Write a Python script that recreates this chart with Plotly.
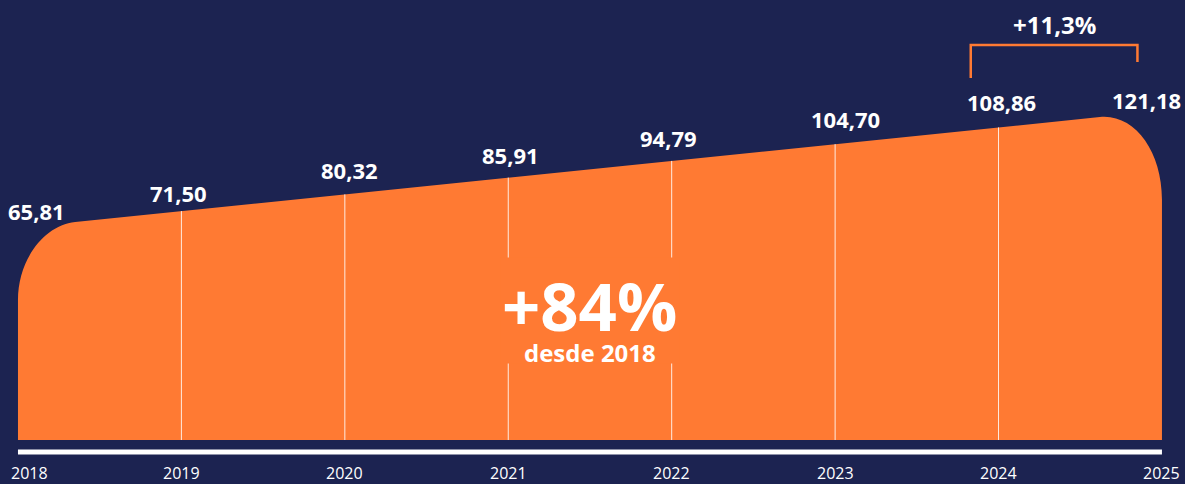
import plotly.graph_objects as go

# ---------------- data ----------------
years = [2018, 2019, 2020, 2021, 2022, 2023, 2024, 2025]
values = [65.81, 71.50, 80.32, 85.91, 94.79, 104.70, 108.86, 121.18]
value_labels = ["65,81", "71,50", "80,32", "85,91", "94,79", "104,70", "108,86", "121,18"]
year_labels = [str(y) for y in years]
growth_total = "+84%"
growth_total_sub = "desde 2018"
growth_last = "+11,3%"

# ---------------- style ----------------
BG = "#1c2351"
ORANGE = "#ff7a33"
FONT = "Open Sans"
W, H = 1185, 484

x_first, x_last = years[0], years[-1]
v_first, v_last = values[0], values[-1]

# axis ranges (years on x, value scale on y, baseline below data)
X_RANGE = [x_first - 0.110, x_last + 0.141]
Y_RANGE = [-55.3, 173.5]
BASE = -34.5


def top(x):
    """decorative top edge of the area, from first to last value"""
    return v_first + (v_last - v_first) * (x - x_first) / (x_last - x_first)


def ypaper(px):
    return 1 - px / H


# rounded corner sizes (in axis units)
rl_x, rl_y = 0.35, 34.1
rr_x, rr_y = 0.38, 42.0
k = 0.55

xa = x_first + rl_x
xb = x_last - rr_x
path = (
    f"M {x_first},{BASE} "
    f"L {x_first},{v_first - rl_y} "
    f"C {x_first},{v_first - rl_y + k * rl_y} {x_first + (1 - k) * rl_x},{top(x_first + (1 - k) * rl_x)} {xa},{top(xa)} "
    f"L {xb},{top(xb)} "
    f"C {xb + k * rr_x},{top(xb + k * rr_x)} {x_last},{v_last - rr_y + k * rr_y} {x_last},{v_last - rr_y} "
    f"L {x_last},{BASE} Z"
)

fig = go.Figure()
# invisible trace to anchor axes
fig.add_trace(go.Scatter(x=years, y=values, mode="markers",
                         marker=dict(opacity=0), hoverinfo="skip", showlegend=False))

shapes = [dict(type="path", path=path, xref="x", yref="y",
               fillcolor=ORANGE, line=dict(width=0), layer="below")]
for yr in years[1:-1]:
    shapes.append(dict(type="line", xref="x", yref="y", x0=yr, x1=yr, y0=BASE, y1=top(yr),
                       line=dict(color="rgba(255,255,255,0.85)", width=1)))
# bottom axis line
shapes.append(dict(type="line", xref="x", yref="paper", x0=x_first, x1=x_last,
                   y0=ypaper(452), y1=ypaper(452), line=dict(color="white", width=5)))
# bracket over the last interval
bx0 = years[-2] - 0.17
bx1 = years[-1] - 0.15
shapes.append(dict(type="path", xref="x", yref="paper",
                   path=f"M {bx0},{ypaper(78)} L {bx0},{ypaper(45)} L {bx1},{ypaper(45)} L {bx1},{ypaper(62)}",
                   line=dict(color=ORANGE, width=2.5)))

annotations = []
# mask behind central text (drawn first)
mid_x = (x_first + x_last) / 2
annotations.append(dict(x=mid_x, y=ypaper(310), xref="x", yref="paper", text=" ", showarrow=False,
                        xanchor="center", yanchor="middle", width=178, height=105,
                        bgcolor=ORANGE, borderpad=0, font=dict(size=10)))
# value labels
label_dx = [19, -3, 5, 2, -3, 10, 3, -15]
label_dy = [17, 18, 24, 23, 23, 25, 25, 11]
for yr, lab, dx, dy in zip(years, value_labels, label_dx, label_dy):
    annotations.append(dict(x=yr, y=top(yr), xref="x", yref="y", text=lab, showarrow=False,
                            xanchor="center", yanchor="middle", xshift=dx, yshift=dy,
                            font=dict(family=FONT, size=22, color="white", weight="bold")))
# year labels
for i, (yr, lab) in enumerate(zip(years, year_labels)):
    annotations.append(dict(x=yr, y=ypaper(473), xref="x", yref="paper", text=lab, showarrow=False,
                            xanchor="center", yanchor="middle", xshift=12 if i == 0 else 0,
                            font=dict(family=FONT, size=16, color="white")))
annotations.append(dict(x=mid_x, y=ypaper(305), xref="x", yref="paper", text=f"<b>{growth_total}</b>",
                        showarrow=False, xanchor="center", yanchor="middle",
                        font=dict(family=FONT, size=67, color="white")))
annotations.append(dict(x=mid_x, y=ypaper(352), xref="x", yref="paper", text=f"<b>{growth_total_sub}</b>",
                        showarrow=False, xanchor="center", yanchor="middle",
                        font=dict(family=FONT, size=24, color="white")))
annotations.append(dict(x=(bx0 + bx1) / 2, y=ypaper(25), xref="x", yref="paper", text=f"<b>{growth_last}</b>",
                        showarrow=False, xanchor="center", yanchor="middle",
                        font=dict(family=FONT, size=24, color="white")))

fig.update_layout(
    width=W, height=H,
    margin=dict(l=0, r=0, t=0, b=0),
    paper_bgcolor=BG, plot_bgcolor=BG,
    xaxis=dict(range=X_RANGE, visible=False, fixedrange=True),
    yaxis=dict(range=Y_RANGE, visible=False, fixedrange=True),
    shapes=shapes, annotations=annotations,
    showlegend=False,
)

fig.write_html("out.html", config={"displayModeBar": False},
               post_script="document.body.style.margin='0';document.body.style.overflow='hidden';")
